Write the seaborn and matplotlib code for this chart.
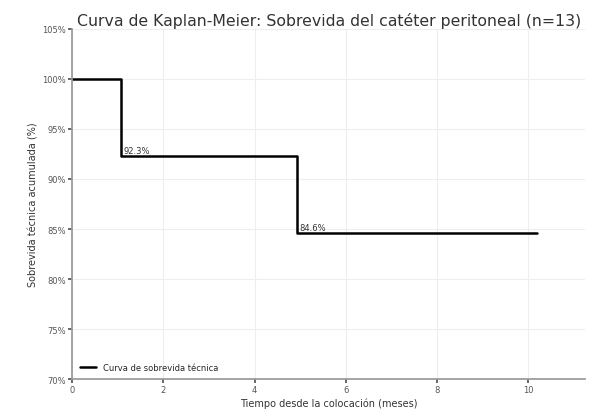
import seaborn as sns
import matplotlib.pyplot as plt
import pandas as pd
from matplotlib.ticker import PercentFormatter

# Kaplan-Meier estimate (n=13)
tiempos = [0, 1.07, 4.93, 10.2]
supervivencia = [100.0, 92.3, 84.6, 84.6]
etiquetas_t = [1.07, 4.93]
etiquetas_s = [92.3, 84.6]

df = pd.DataFrame({'Tiempo': tiempos, 'Supervivencia': supervivencia})

sns.set_theme(style='ticks')
plt.rcParams['font.family'] = ['DejaVu Sans']

fig, ax = plt.subplots(figsize=(5.97, 4.1), dpi=100)
fig.subplots_adjust(left=0.121, right=0.98, top=0.927, bottom=0.073)
sns.lineplot(data=df, x='Tiempo', y='Supervivencia', drawstyle='steps-post',
             color='black', linewidth=1.8, label='Curva de sobrevida técnica', ax=ax)

for t, s in zip(etiquetas_t, etiquetas_s):
    ax.text(t + 0.05, s + 0.3, f'{s:.1f}%', fontsize=6, color='#333333')

ax.set_xlim(0, 11.25)
ax.set_ylim(70, 105)
ax.set_xticks([0, 2, 4, 6, 8, 10])
ax.set_yticks([70, 75, 80, 85, 90, 95, 100, 105])
ax.yaxis.set_major_formatter(PercentFormatter(decimals=0))
ax.grid(True, color='#eeeeee', linewidth=0.8)
ax.tick_params(labelsize=6, colors='#555555', length=3, pad=1.5)
for sp in ['left', 'bottom']:
    ax.spines[sp].set_color('#999999')
for sp in ['top', 'right']:
    ax.spines[sp].set_visible(False)

ax.set_title('Curva de Kaplan-Meier: Sobrevida del catéter peritoneal (n=13)',
             fontsize=11.3, color='#333333', pad=3)
ax.set_xlabel('Tiempo desde la colocación (meses)', fontsize=7, color='#333333', labelpad=2)
ax.set_ylabel('Sobrevida técnica acumulada (%)', fontsize=7, color='#333333', labelpad=3)
ax.legend(loc='lower left', frameon=False, fontsize=6)

plt.savefig('out.png', dpi=100)
